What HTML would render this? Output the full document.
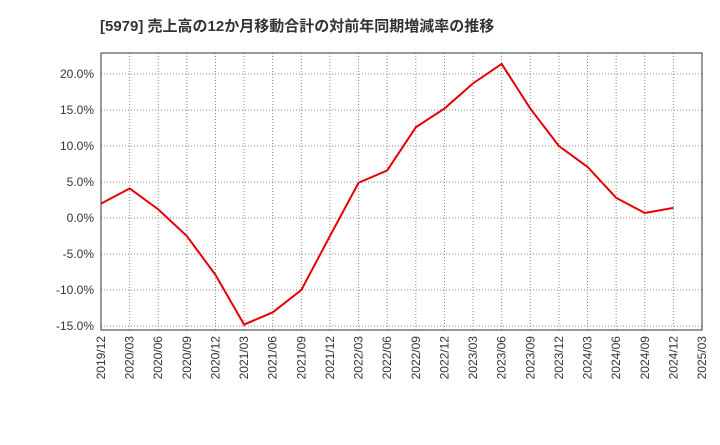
<!DOCTYPE html>
<html><head><meta charset="utf-8"><style>
body{margin:0;background:#fff;width:720px;height:440px;overflow:hidden}
svg text{font-family:"Liberation Sans","Noto Sans CJK JP",sans-serif}
</style></head><body>
<svg id="chart" width="720" height="440">
<text x="100" y="31" font-size="15" font-weight="bold" fill="#333">[5979]  売上高の12か月移動合計の対前年同期増減率の推移</text>
<g id="grid"></g><g id="axes"></g><g id="series"></g>
</svg>
<script>
const categories=["2019/12","2020/03","2020/06","2020/09","2020/12","2021/03","2021/06","2021/09","2021/12","2022/03","2022/06","2022/09","2022/12","2023/03","2023/06","2023/09","2023/12","2024/03","2024/06","2024/09","2024/12","2025/03"];
const values=[2.0,4.1,1.2,-2.5,-7.9,-14.8,-13.1,-10.0,-2.5,4.9,6.6,12.6,15.2,18.7,21.4,15.2,10.0,7.1,2.8,0.7,1.4,null];
const yTicks=[20,15,10,5,0,-5,-10,-15];
const yTickLabels=["20.0%","15.0%","10.0%","5.0%","0.0%","-5.0%","-10.0%","-15.0%"];
const L=101,R=702,T=53,B=330;
const xs=i=>L+(R-L)*i/(categories.length-1);
const ys=v=>218-v*7.2;
const NS="http://www.w3.org/2000/svg";
function mk(p,tag,at){const e=document.createElementNS(NS,tag);for(const k in at)e.setAttribute(k,at[k]);document.getElementById(p).appendChild(e);return e;}
categories.forEach((c,i)=>{
 const x=xs(i);
 if(i>0&&i<categories.length-1){const g=mk("grid","line",{x1:x,x2:x,y1:T,y2:B,stroke:"#888","stroke-width":1,"stroke-dasharray":"1,2"});
 
 }
 const t=mk("axes","text",{x:0,y:0,"font-size":12,fill:"#333","text-anchor":"end",transform:`translate(${x+4},${B+6}) rotate(-90)`});
 t.textContent=c;
 
 
});
yTicks.forEach((v,i)=>{
 const y=ys(v);
 const g=mk("grid","line",{x1:L,x2:R,y1:y,y2:y,stroke:"#888","stroke-width":1,"stroke-dasharray":"1,2"});
 
 
 const t=mk("axes","text",{x:L-7,y:y+4,"font-size":12,fill:"#333","text-anchor":"end"});
 t.textContent=yTickLabels[i];
 
 
});
const f=mk("axes","rect",{x:L,y:T,width:R-L,height:B-T,fill:"none",stroke:"#333","stroke-width":1});


let d="";values.forEach((v,i)=>{if(v!==null)d+=(d?"L":"M")+xs(i)+","+ys(v);});
const p=mk("series","path",{d:d,fill:"none",stroke:"#e60000","stroke-width":2});


</script>
</body></html>
